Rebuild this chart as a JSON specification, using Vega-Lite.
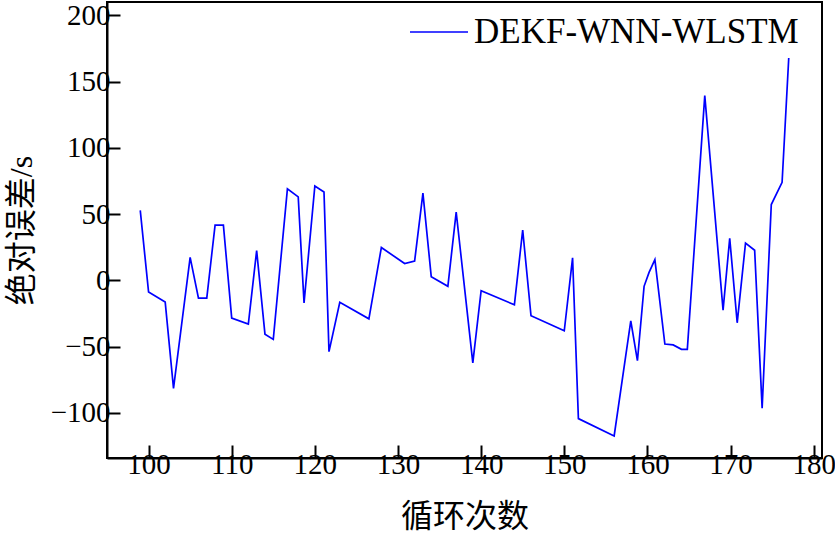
{
  "$schema": "https://vega.github.io/schema/vega-lite/v6.json",
  "width": 715,
  "height": 456,
  "autosize": "none",
  "padding": {"left": 107, "top": 2, "right": 13, "bottom": 75},
  "background": "white",
  "config": {
    "view": {"stroke": "black", "strokeWidth": 2},
    "font": "Liberation Serif"
  },
  "data": {
    "values": [
      {"cycle": 99, "err": 52.8},
      {"cycle": 100, "err": -8.8},
      {"cycle": 102, "err": -16.4},
      {"cycle": 103, "err": -81.5},
      {"cycle": 105, "err": 17.4},
      {"cycle": 106, "err": -13.4},
      {"cycle": 107, "err": -13.4},
      {"cycle": 108, "err": 41.7},
      {"cycle": 109, "err": 41.7},
      {"cycle": 110, "err": -28.5},
      {"cycle": 112, "err": -33},
      {"cycle": 113, "err": 22.5},
      {"cycle": 114, "err": -40.6},
      {"cycle": 115, "err": -44.5},
      {"cycle": 116.7, "err": 69},
      {"cycle": 118, "err": 63},
      {"cycle": 118.7, "err": -17},
      {"cycle": 120, "err": 71.2},
      {"cycle": 121.1, "err": 66.7},
      {"cycle": 121.7, "err": -53.8},
      {"cycle": 123, "err": -16.5},
      {"cycle": 126.5, "err": -29},
      {"cycle": 128, "err": 24.8},
      {"cycle": 130.8, "err": 12.7},
      {"cycle": 132, "err": 14.5},
      {"cycle": 133, "err": 65.8},
      {"cycle": 134, "err": 2.8},
      {"cycle": 136, "err": -4.5},
      {"cycle": 137, "err": 51.5},
      {"cycle": 139, "err": -62.3},
      {"cycle": 140, "err": -7.8},
      {"cycle": 144, "err": -18.4},
      {"cycle": 145, "err": 38},
      {"cycle": 146, "err": -26.7},
      {"cycle": 150, "err": -38},
      {"cycle": 151, "err": 17},
      {"cycle": 151.7, "err": -104.3},
      {"cycle": 156, "err": -117.4},
      {"cycle": 158, "err": -30.5},
      {"cycle": 158.8, "err": -60.6},
      {"cycle": 159.6, "err": -4.5},
      {"cycle": 160.2, "err": 6},
      {"cycle": 160.9, "err": 15.7},
      {"cycle": 162.1, "err": -48},
      {"cycle": 163.1, "err": -48.7},
      {"cycle": 164.1, "err": -52},
      {"cycle": 164.8, "err": -52},
      {"cycle": 166.9, "err": 139.4},
      {"cycle": 169.1, "err": -22.5},
      {"cycle": 169.9, "err": 31.8},
      {"cycle": 170.8, "err": -32},
      {"cycle": 171.8, "err": 28.1},
      {"cycle": 172.9, "err": 22.7},
      {"cycle": 173.8, "err": -96.5},
      {"cycle": 174.9, "err": 57.2},
      {"cycle": 176.2, "err": 74},
      {"cycle": 177, "err": 167.7}
    ]
  },
  "transform": [{"calculate": "'DEKF-WNN-WLSTM'", "as": "series"}],
  "mark": {"type": "line", "strokeWidth": 1.7, "clip": true},
  "encoding": {
    "x": {
      "field": "cycle",
      "type": "quantitative",
      "scale": {"domain": [95, 181], "nice": false, "zero": false},
      "axis": {
        "values": [100, 110, 120, 130, 140, 150, 160, 170, 180],
        "title": "循环次数",
        "domain": true,
        "domainColor": "black",
        "domainWidth": 2,
        "grid": false,
        "ticks": true,
        "tickSize": -13,
        "tickWidth": 2,
        "tickColor": "black",
        "labelFont": "Liberation Serif",
        "labelFontSize": 29,
        "labelColor": "black",
        "labelOverlap": false,
        "labelPadding": 5,
        "titleFont": "Liberation Serif, Noto Sans CJK SC",
        "titleFontSize": 32,
        "titleFontWeight": "normal",
        "titleColor": "black",
        "titlePadding": 22
      }
    },
    "y": {
      "field": "err",
      "type": "quantitative",
      "scale": {"domain": [-134, 210], "nice": false, "zero": false},
      "axis": {
        "values": [-100, -50, 0, 50, 100, 150, 200],
        "title": "绝对误差/s",
        "domain": true,
        "domainColor": "black",
        "domainWidth": 2,
        "grid": false,
        "ticks": true,
        "tickSize": -13,
        "tickWidth": 2,
        "tickColor": "black",
        "labelFont": "Liberation Serif",
        "labelFontSize": 29,
        "labelColor": "black",
        "labelOverlap": false,
        "labelPadding": 10,
        "titleFont": "Liberation Serif, Noto Sans CJK SC",
        "titleFontSize": 32,
        "titleFontWeight": "normal",
        "titleColor": "black",
        "titlePadding": 12
      }
    },
    "color": {
      "field": "series",
      "type": "nominal",
      "scale": {"range": ["#0000FF"]},
      "legend": {
        "title": null,
        "orient": "none",
        "legendX": 302,
        "legendY": 0,
        "symbolType": "stroke",
        "symbolSize": 3364,
        "symbolStrokeWidth": 1.7,
        "labelFont": "Liberation Serif",
        "labelFontSize": 35,
        "labelLimit": 0,
        "labelColor": "black",
        "labelOffset": 5,
        "padding": 0
      }
    }
  }
}
